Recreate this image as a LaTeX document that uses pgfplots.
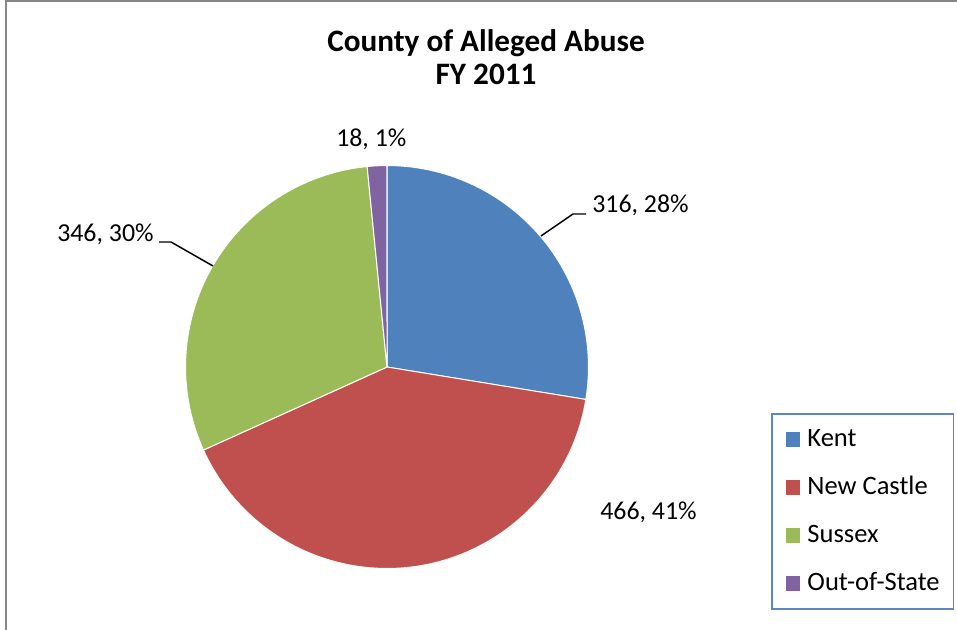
\documentclass[border=0pt]{standalone}
\usepackage{fontspec}
\setmainfont{Carlito}
\usepackage{pgfplots}
\pgfplotsset{compat=1.18}

\definecolor{kentc}{HTML}{4F81BD}
\definecolor{newc}{HTML}{C0504D}
\definecolor{susc}{HTML}{9BBB59}
\definecolor{outc}{HTML}{8064A2}
\definecolor{legc}{HTML}{5B87C2}
\definecolor{framec}{HTML}{878787}

\newcommand{\lbl}{\fontsize{19.4}{23}\selectfont}
\newcommand{\leg}{\fontsize{19.9}{23}\selectfont}
\newcommand{\ttl}{\fontsize{23.4}{27}\selectfont\bfseries}

\begin{document}
\begin{tikzpicture}
% counts per county
\def\vKent{316}
\def\vNew{466}
\def\vSus{346}
\def\vOut{18}
\pgfmathsetmacro\tot{\vKent+\vNew+\vSus+\vOut}
\pgfmathsetmacro\aA{90}
\pgfmathsetmacro\aB{\aA-\vKent/\tot*360}
\pgfmathsetmacro\aC{\aB-\vNew/\tot*360}
\pgfmathsetmacro\aD{\aC-\vSus/\tot*360}
\pgfmathsetmacro\aE{\aD-\vOut/\tot*360}
\def\R{151.1pt}

\begin{axis}[
    x=0.75pt, y=0.75pt,
    xmin=0, xmax=957, ymin=0, ymax=630,
    anchor=origin, at={(0,0)},
    hide axis, clip=false,
    legend image code/.code={\fill[#1] (0pt,-5.5pt) rectangle (11pt,5.5pt);},
    legend cell align=left,
    legend style={
        at={(axis description cs:0.8056,0.3444)}, anchor=north west,
        draw=legc, line width=1.2pt, fill=white,
        inner xsep=10.5pt, inner ysep=10pt,
        row sep=17.5pt, font=\leg,
        nodes={inner sep=0pt, text height=14.5pt, text depth=4pt},
        /tikz/every odd column/.append style={column sep=5.25pt}
    }
]
\addlegendimage{fill=kentc, draw=none}
\addlegendimage{fill=newc, draw=none}
\addlegendimage{fill=susc, draw=none}
\addlegendimage{fill=outc, draw=none}
\legend{Kent, New Castle, Sussex, Out-of-State}

% chart frame
\draw[framec, line width=1.5pt] (axis cs:5.8,0) -- (axis cs:5.8,629.2) -- (axis cs:957,629.2);

% slices
\filldraw[fill=kentc, draw=white, line width=0.75pt] (axis cs:387,263) -- ++(\aA:\R) arc[start angle=\aA, end angle=\aB, radius=\R] -- cycle;
\filldraw[fill=newc, draw=white, line width=0.75pt] (axis cs:387,263) -- ++(\aB:\R) arc[start angle=\aB, end angle=\aC, radius=\R] -- cycle;
\filldraw[fill=susc, draw=white, line width=0.75pt] (axis cs:387,263) -- ++(\aC:\R) arc[start angle=\aC, end angle=\aD, radius=\R] -- cycle;
\filldraw[fill=outc, draw=white, line width=0.75pt] (axis cs:387,263) -- ++(\aD:\R) arc[start angle=\aD, end angle=\aE, radius=\R] -- cycle;

% title
\node[anchor=base, font=\ttl] at (axis cs:486,578) {County of Alleged Abuse};
\node[anchor=base, font=\ttl] at (axis cs:486,545) {FY 2011};

% data labels
\draw[black, line width=1.1pt] (axis cs:541,394) -- (axis cs:573,416) -- (axis cs:586,416);
\draw[black, line width=1.1pt] (axis cs:159,388) -- (axis cs:171,388) -- (axis cs:213,364);
\node[anchor=base west, font=\lbl, inner sep=0pt] at (axis cs:592,417) {316, 28\%};
\node[anchor=base west, font=\lbl, inner sep=0pt] at (axis cs:600,110) {466, 41\%};
\node[anchor=base west, font=\lbl, inner sep=0pt] at (axis cs:57,388) {346, 30\%};
\node[anchor=base west, font=\lbl, inner sep=0pt] at (axis cs:336,483) {18, 1\%};
\end{axis}
\pgfresetboundingbox
\useasboundingbox (0,0) rectangle (717.75pt,472.5pt);
\end{tikzpicture}
\end{document}
